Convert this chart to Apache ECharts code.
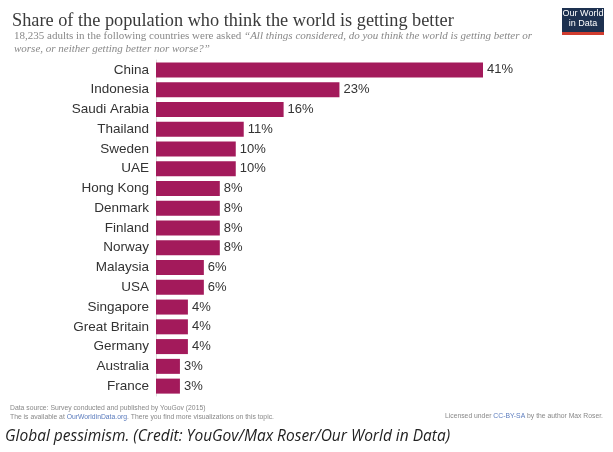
<!DOCTYPE html>
<html><head><meta charset="utf-8">
<script src="https://cdn.jsdelivr.net/npm/echarts@6/dist/echarts.min.js"></script>
<style>html,body{margin:0;padding:0;background:#fff}#c{width:613px;height:452px}</style>
</head><body><div id="c"></div>
<script>
const countries = ["China","Indonesia","Saudi Arabia","Thailand","Sweden","UAE","Hong Kong","Denmark","Finland","Norway","Malaysia","USA","Singapore","Great Britain","Germany","Australia","France"];
const shares = [41,23,16,11,10,10,8,8,8,8,6,6,4,4,4,3,3];

const chart = echarts.init(document.getElementById('c'));
chart.setOption({
  animation:false,
  backgroundColor:'#fff',
  title:[
    {text:'Share of the population who think the world is getting better', left:7, top:7,
     textStyle:{fontFamily:'Liberation Serif, serif', fontSize:18.3, fontWeight:'normal', color:'#3a3a3a'}},
    {text:'{n|18,235 adults in the following countries were asked }{i|“All things considered, do you think the world is getting better or}\n{i|worse, or neither getting better nor worse?”}', left:9, top:25,
     textStyle:{fontWeight:'normal', rich:{n:{fontFamily:'Liberation Serif, serif', fontWeight:'normal', fontSize:11, color:'#888', lineHeight:13},
                      i:{fontFamily:'Liberation Serif, serif', fontWeight:'normal', fontStyle:'italic', fontSize:11, color:'#888', lineHeight:13}}}}
  ],
  graphic:[
    {type:'rect', shape:{x:562,y:8,width:42,height:24}, style:{fill:'#1d3150'}},
    {type:'rect', shape:{x:562,y:32,width:42,height:3}, style:{fill:'#d03c2f'}},
    {type:'text', x:583, y:9, style:{text:'Our World\nin Data', fill:'#fff', align:'center', font:'9px Liberation Sans, sans-serif', lineHeight:10}},
    {type:'text', x:10, y:404, style:{rich:{a:{fill:'#888',fontSize:6.8,fontFamily:'Liberation Sans, sans-serif'},b:{fill:'#5a7bbd',fontSize:6.8,fontFamily:'Liberation Sans, sans-serif'}},
      text:'{a|Data source: Survey conducted and published by YouGov (2015)}\n{a|The is available at }{b|OurWorldinData.org}{a|. There you find more visualizations on this topic.}', lineHeight:9}},
    {type:'text', x:603, y:413, style:{align:'right', rich:{a:{fill:'#888',fontSize:6.8,fontFamily:'Liberation Sans, sans-serif'},b:{fill:'#5a7bbd',fontSize:6.8,fontFamily:'Liberation Sans, sans-serif'}},
      text:'{a|Licensed under }{b|CC-BY-SA}{a| by the author Max Roser.}'}},
    {type:'text', x:5, y:429, style:{text:'Global pessimism. (Credit: YouGov/Max Roser/Our World in Data)', fill:'#222', font:'italic 15.5px Open Sans, sans-serif'}}
  ],
  grid:{left:156, right:130, top:60, bottom:56, containLabel:false},
  xAxis:{type:'value', min:0, max:41, show:false},
  yAxis:{type:'category', data:countries, inverse:true,
    axisLine:{show:true, lineStyle:{color:'#ddd'}}, axisTick:{show:false},
    axisLabel:{color:'#333', fontSize:13.5, fontFamily:'Liberation Sans, Arial, sans-serif', margin:7}},
  series:[{type:'bar', data:shares, barWidth:15, itemStyle:{color:'#a31a5b'},
    label:{show:true, position:'right', formatter:'{c}%', color:'#333', fontSize:13, fontFamily:'Liberation Sans, Arial, sans-serif', distance:4}}]
});
</script></body></html>
